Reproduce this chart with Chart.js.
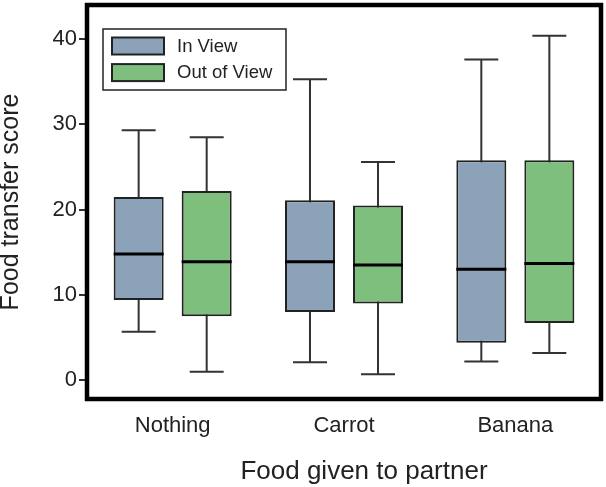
<!DOCTYPE html>
<html>
<head>
<meta charset="utf-8">
<script src="https://cdn.jsdelivr.net/npm/chart.js@4/dist/chart.umd.min.js"></script>
<style>
    html, body { margin: 0; padding: 0; background: #fff; }
    #wrap { width: 606px; height: 487px; position: relative; }
</style>
</head>
<body>
<div id="wrap"><canvas id="grafico"></canvas></div>
<script>
// categorias e valores
const categorias = ['Nothing', 'Carrot', 'Banana']
const serieNomes = ['In View', 'Out of View']
const serieCores = ['#8BA2B9', '#7EBF7E']

const inViewMin = [5.7, 2.1, 2.2]
const inViewQ1 = [9.4, 8.0, 4.4]
const inViewMediana = [14.8, 13.9, 13.0]
const inViewQ3 = [21.5, 21.1, 25.8]
const inViewMax = [29.3, 35.3, 37.6]

const outViewMin = [1.0, 0.7, 3.2]
const outViewQ1 = [7.5, 9.0, 6.7]
const outViewMediana = [13.9, 13.5, 13.7]
const outViewQ3 = [22.2, 20.5, 25.8]
const outViewMax = [28.5, 25.6, 40.4]

const yTicks = [0, 10, 20, 30, 40]

const tituloX = 'Food given to partner'
const tituloY = 'Food transfer score'

const fonte = "'Liberation Sans', Arial, Helvetica, sans-serif"

function montarDataset(i, q1, q3, min, max, med) {
    return {
        label: serieNomes[i],
        data: categorias.map((c, k) => [q1[k], q3[k]]),
        whiskerMin: min,
        whiskerMax: max,
        mediana: med,
        backgroundColor: serieCores[i],
        borderColor: '#222',
        borderWidth: 2,
        borderSkipped: false,
        categoryPercentage: 0.794,
        barPercentage: 0.735
    }
}

// bigodes (antes das caixas) e medianas (depois)
const boxPlugin = {
    id: 'boxPlugin',
    beforeDatasetsDraw(chart) {
        const ctx = chart.ctx
        const y = chart.scales.y
        ctx.save()
        ctx.strokeStyle = '#333'
        ctx.lineWidth = 2
        chart.data.datasets.forEach((ds, i) => {
            chart.getDatasetMeta(i).data.forEach((bar, k) => {
                const yMin = y.getPixelForValue(ds.whiskerMin[k])
                const yMax = y.getPixelForValue(ds.whiskerMax[k])
                const meia = bar.width * 0.34
                ctx.beginPath()
                ctx.moveTo(bar.x, yMin)
                ctx.lineTo(bar.x, yMax)
                ctx.moveTo(bar.x - meia, yMin)
                ctx.lineTo(bar.x + meia, yMin)
                ctx.moveTo(bar.x - meia, yMax)
                ctx.lineTo(bar.x + meia, yMax)
                ctx.stroke()
            })
        })
        ctx.restore()
    },
    afterDatasetsDraw(chart) {
        const ctx = chart.ctx
        const y = chart.scales.y
        ctx.save()
        ctx.strokeStyle = '#000'
        ctx.lineWidth = 3
        chart.data.datasets.forEach((ds, i) => {
            chart.getDatasetMeta(i).data.forEach((bar, k) => {
                const ym = y.getPixelForValue(ds.mediana[k])
                ctx.beginPath()
                ctx.moveTo(bar.x - bar.width / 2, ym)
                ctx.lineTo(bar.x + bar.width / 2, ym)
                ctx.stroke()
            })
        })
        ctx.restore()
    },
    afterDraw(chart) {
        const ctx = chart.ctx
        const a = chart.chartArea
        ctx.save()
        // moldura
        ctx.strokeStyle = '#000'
        ctx.lineWidth = 4.5
        ctx.strokeRect(a.left, a.top, a.right - a.left, a.bottom - a.top)

        // legenda dentro da área
        const lx = a.left + 16
        const ly = a.top + 24
        ctx.lineWidth = 1.5
        ctx.strokeStyle = '#222'
        ctx.fillStyle = '#fff'
        ctx.fillRect(lx, ly, 183, 61)
        ctx.strokeRect(lx, ly, 183, 61)
        ctx.font = '18.5px ' + fonte
        ctx.textBaseline = 'middle'
        chart.data.datasets.forEach((ds, i) => {
            const sy = ly + 8.5 + i * 26.6
            ctx.fillStyle = ds.backgroundColor
            ctx.fillRect(lx + 9, sy, 52, 17)
            ctx.lineWidth = 2
            ctx.strokeStyle = '#222'
            ctx.strokeRect(lx + 9, sy, 52, 17)
            ctx.fillStyle = '#222'
            ctx.fillText(ds.label, lx + 74, sy + 9)
        })

        // título do eixo x (um pouco deslocado à direita, como no original)
        ctx.font = '26px ' + fonte
        ctx.textAlign = 'center'
        ctx.fillStyle = '#222'
        ctx.fillText(tituloX, (a.left + a.right) / 2 + 20, a.bottom + 73)
        ctx.restore()
    }
}

new Chart(document.getElementById('grafico').getContext('2d'), {
    type: 'bar',
    data: {
        labels: categorias,
        datasets: [
            montarDataset(0, inViewQ1, inViewQ3, inViewMin, inViewMax, inViewMediana),
            montarDataset(1, outViewQ1, outViewQ3, outViewMin, outViewMax, outViewMediana)
        ]
    },
    options: {
        responsive: true,
        maintainAspectRatio: false,
        animation: false,
        layout: { padding: { top: 5, right: 5, left: 0, bottom: 0 } },
        plugins: {
            legend: { display: false },
            tooltip: { enabled: false }
        },
        scales: {
            x: {
                grid: { display: false },
                border: { display: false },
                ticks: { color: '#222', padding: 6, font: { family: fonte, size: 22 } },
                afterFit(scale) {
                    scale.height = 88
                    scale.paddingLeft = 0
                    scale.paddingRight = 0
                }
            },
            y: {
                min: -2.2,
                max: 44,
                afterBuildTicks(scale) {
                    scale.ticks = yTicks.map(v => ({ value: v }))
                },
                grid: {
                    drawOnChartArea: false,
                    drawTicks: true,
                    tickLength: 8,
                    color: '#333',
                    lineWidth: 2
                },
                border: { display: false },
                ticks: { color: '#222', padding: 2, font: { family: fonte, size: 22 } },
                title: {
                    display: true,
                    text: tituloY,
                    color: '#222',
                    padding: { top: 0, bottom: 0 },
                    font: { family: fonte, size: 25, lineHeight: 0.9 }
                },
                afterFit(scale) {
                    scale.width = 87
                    scale.paddingTop = 0
                    scale.paddingBottom = 0
                }
            }
        }
    },
    plugins: [boxPlugin]
})
</script>
</body>
</html>
